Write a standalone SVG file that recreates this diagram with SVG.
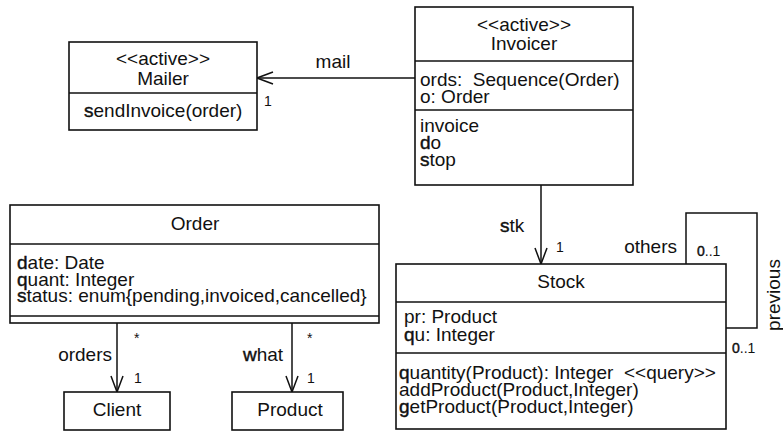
<svg xmlns="http://www.w3.org/2000/svg" width="783" height="431" viewBox="0 0 783 431">
  <style>
    text { font-family: "Liberation Sans", Arial, Helvetica, sans-serif; font-size: 19px; fill: #111; }
    .c { text-anchor: middle; }
    .e { text-anchor: end; }
    .m { font-size: 14px; }
    .b { stroke: #111; stroke-width: 0.45; }
    .box { fill: #fff; stroke: #111; stroke-width: 1.6; }
    .sep { stroke: #111; stroke-width: 1.4; fill: none; }
    .ln { stroke: #111; stroke-width: 1.5; fill: none; }
  </style>
  <defs>
    <marker id="open" viewBox="0 0 18 14" refX="17" refY="7" markerWidth="18" markerHeight="14" markerUnits="userSpaceOnUse" orient="auto">
      <path d="M1,1 L17,7 L1,13" fill="none" stroke="#111" stroke-width="1.5"/>
    </marker>
  </defs>
  <rect width="783" height="431" fill="#fff"/>

  <!-- associations -->
  <g id="connectors">
    <line class="ln" x1="416" y1="78" x2="257" y2="78" marker-end="url(#open)"/>
    <text x="333" y="68" class="c">mail</text>
    <text x="264" y="106" class="m">1</text>

    <line class="ln" x1="541" y1="185" x2="541" y2="264" marker-end="url(#open)"/>
    <text x="500" y="232"><tspan class="b">s</tspan>tk</text>
    <text x="556" y="252" class="m">1</text>

    <polyline class="ln" points="686,264 686,213 757,213 757,328 726,328"/>
    <text x="677" y="253" class="e">others</text>
    <text x="697" y="256" class="m"><tspan class="b">0</tspan>..1</text>
    <text x="732" y="353" class="m"><tspan class="b">0</tspan>..1</text>
    <text x="780" y="295" class="c" transform="rotate(-90 780 295)">previous</text>

    <line class="ln" x1="117" y1="323" x2="117" y2="392" marker-end="url(#open)"/>
    <text x="112" y="361" class="e">orders</text>
    <text x="134" y="343" class="m">*</text>
    <text x="134" y="383" class="m">1</text>

    <line class="ln" x1="292" y1="323" x2="292" y2="392" marker-end="url(#open)"/>
    <text x="243" y="361"><tspan class="b">w</tspan>hat</text>
    <text x="307" y="343" class="m">*</text>
    <text x="307" y="383" class="m">1</text>
  </g>

  <g id="mailer">
    <rect class="box" x="69" y="42" width="188" height="88"/>
    <line class="sep" x1="69" y1="93" x2="257" y2="93"/>
    <text x="163" y="65" class="c">&lt;&lt;active&gt;&gt;</text>
    <text x="163" y="85" class="c">Mailer</text>
    <text x="84" y="117"><tspan class="b">s</tspan>endInvoice(order)</text>
  </g>

  <g id="invoicer">
    <rect class="box" x="415" y="7" width="218" height="178"/>
    <line class="sep" x1="415" y1="61" x2="633" y2="61"/>
    <line class="sep" x1="415" y1="110" x2="633" y2="110"/>
    <text x="524" y="31" class="c">&lt;&lt;active&gt;&gt;</text>
    <text x="524" y="50" class="c">Invoicer</text>
    <text x="420" y="86">ords:&#160; Sequence(Order)</text>
    <text x="420" y="103">o: Order</text>
    <text x="420" y="132">invoice</text>
    <text x="420" y="149"><tspan class="b">d</tspan>o</text>
    <text x="420" y="166"><tspan class="b">s</tspan>top</text>
  </g>

  <g id="order">
    <rect class="box" x="10" y="205" width="369" height="118"/>
    <line class="sep" x1="10" y1="244" x2="379" y2="244"/>
    <line class="sep" x1="10" y1="316" x2="379" y2="316"/>
    <text x="195" y="230" class="c">Order</text>
    <text x="17" y="269"><tspan class="b">d</tspan>ate: Date</text>
    <text x="17" y="286"><tspan class="b">q</tspan>uant: Integer</text>
    <text x="17" y="302"><tspan class="b">s</tspan>tatus: enum{pending,invoiced,cancelled}</text>
  </g>

  <g id="client">
    <rect class="box" x="64" y="392" width="106" height="38"/>
    <text x="117" y="416" class="c">Client</text>
  </g>

  <g id="product">
    <rect class="box" x="232" y="392" width="111" height="38"/>
    <text x="290" y="416" class="c">Product</text>
  </g>

  <g id="stock">
    <rect class="box" x="396" y="264" width="330" height="165"/>
    <line class="sep" x1="396" y1="302" x2="726" y2="302"/>
    <line class="sep" x1="396" y1="353" x2="726" y2="353"/>
    <text x="561" y="288" class="c">Stock</text>
    <text x="404" y="323">pr: Product</text>
    <text x="404" y="341"><tspan class="b">q</tspan>u: Integer</text>
    <text x="399" y="379"><tspan class="b">q</tspan>uantity(Product): Integer&#160; &lt;&lt;query&gt;&gt;</text>
    <text x="399" y="396">addProduct(Product,Integer)</text>
    <text x="399" y="413"><tspan class="b">g</tspan>etProduct(Product,Integer)</text>
  </g>
</svg>
